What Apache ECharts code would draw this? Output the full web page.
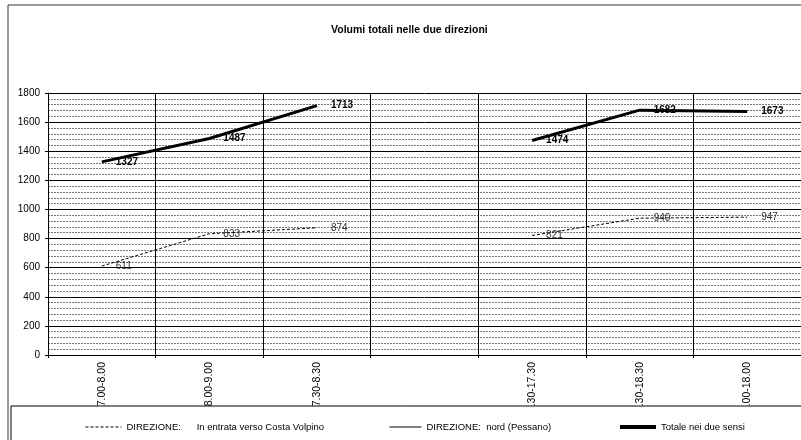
<!DOCTYPE html>
<html>
<head>
<meta charset="utf-8">
<script src="https://cdn.jsdelivr.net/npm/echarts@6/dist/echarts.min.js"></script>
<style>
html,body{margin:0;padding:0;background:#fff;}
#c{width:801px;height:440px;}
</style>
</head>
<body>
<div id="c"></div>
<script>
const categories = ['7.00-8.00', '8.00-9.00', '7.30-8.30', '', '.30-17.30', '.30-18.30', '.00-18.00'];
const entrata = [611, 833, 874, null, 821, 940, 947];
const nord = [];
const totale = [1327, 1487, 1713, null, 1474, 1682, 1673];
const yTicks = { min: 0, max: 1800, interval: 200 };

const nameEntrata = 'DIREZIONE:      In entrata verso Costa Volpino';
const nameNord = 'DIREZIONE:  nord (Pessano)';
const nameTotale = 'Totale nei due sensi';

const chart = echarts.init(document.getElementById('c'), null, { renderer: 'canvas' });
const sans = '"Liberation Sans", Arial, sans-serif';
const legendText = { fontFamily: sans, fontSize: 9.5, color: '#000' };
const legendCommon = { top: 417, z: 200, itemHeight: 10, itemGap: 0, textStyle: legendText,
                       itemStyle: { opacity: 0 } };

chart.setOption({
  animation: false,
  backgroundColor: '#fff',
  title: {
    text: 'Volumi totali nelle due direzioni',
    left: 326, top: 20,
    textStyle: { fontFamily: sans, fontSize: 10.5, fontWeight: 'bold', color: '#000' }
  },
  graphic: [
    { type: 'rect', z: 0, silent: true, shape: { x: 8, y: 5, width: 900, height: 500 },
      style: { fill: 'none', stroke: '#333', lineWidth: 1 } },
    { type: 'rect', z: 100, silent: true, shape: { x: 11, y: 406, width: 900, height: 100 },
      style: { fill: '#fff', stroke: '#000', lineWidth: 1 } }
  ],
  legend: [
    Object.assign({ data: [nameEntrata], left: 80, itemWidth: 36,
                    lineStyle: { color: '#000', width: 1, type: [3, 2] } }, legendCommon),
    Object.assign({ data: [nameNord], left: 384, itemWidth: 32,
                    lineStyle: { color: '#000', width: 1, type: 'solid' } }, legendCommon),
    Object.assign({ data: [nameTotale], left: 613, itemWidth: 36,
                    lineStyle: { color: '#000', width: 4, type: 'solid' } }, legendCommon)
  ],
  grid: { left: 48, width: 765, top: 93, height: 262, containLabel: false },
  xAxis: {
    type: 'category',
    data: categories,
    boundaryGap: true,
    axisLine: { lineStyle: { color: '#000', width: 1 } },
    axisTick: { show: true, length: 3, interval: 0, lineStyle: { color: '#000' } },
    axisLabel: { rotate: 90, interval: 0, margin: 7, fontFamily: sans, fontSize: 10.5, color: '#000' },
    splitLine: { show: true, interval: 0, lineStyle: { color: '#000', width: 1 } }
  },
  yAxis: {
    type: 'value',
    min: yTicks.min, max: yTicks.max, interval: yTicks.interval,
    axisLine: { show: true, lineStyle: { color: '#000', width: 1 } },
    axisTick: { show: true, length: 3, lineStyle: { color: '#000' } },
    axisLabel: { margin: 8, fontFamily: sans, fontSize: 10, color: '#000',
                 formatter: v => String(v) },
    splitLine: { show: true, lineStyle: { color: '#000', width: 1 } },
    minorTick: { show: false, splitNumber: 5 },
    minorSplitLine: { show: true, lineStyle: { color: '#777', width: 1, type: [2, 1] } }
  },
  series: [
    {
      name: nameEntrata, type: 'line', data: entrata, smooth: false,
      symbol: 'circle', symbolSize: 0.01, showSymbol: true, connectNulls: false,
      lineStyle: { color: '#000', width: 1, type: [3, 2] },
      itemStyle: { color: '#000' },
      label: { show: true, position: 'right', distance: 14, fontFamily: sans, fontSize: 10, color: '#333',
               formatter: p => p.value }
    },
    {
      name: nameNord, type: 'line', data: nord,
      symbol: 'circle', symbolSize: 0.01,
      lineStyle: { color: '#000', width: 1 },
      itemStyle: { color: '#000' }
    },
    {
      name: nameTotale, type: 'line', data: totale, smooth: false,
      symbol: 'circle', symbolSize: 0.01, showSymbol: true, connectNulls: false,
      lineStyle: { color: '#000', width: 3 },
      itemStyle: { color: '#000' },
      label: { show: true, position: 'right', distance: 14, fontFamily: sans, fontSize: 10, fontWeight: 'bold', color: '#000',
               formatter: p => p.value }
    }
  ]
});
</script>
</body>
</html>
